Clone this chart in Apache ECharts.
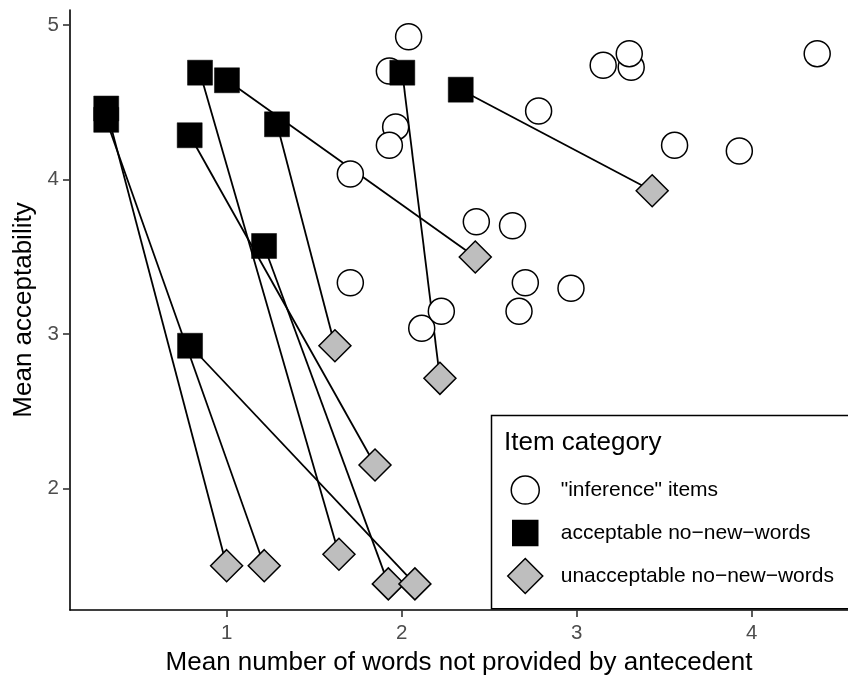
<!DOCTYPE html>
<html>
<head>
<meta charset="utf-8">
<script src="https://cdn.jsdelivr.net/npm/echarts@6/dist/echarts.min.js"></script>
<style>
html, body { margin: 0; padding: 0; background: #fff; }
#main { width: 848px; height: 675px; }
</style>
</head>
<body>
<div id="main"></div>
<script>
// "inference" items
var inferenceX = [2.039, 1.929, 2.782, 1.965, 1.929, 1.706, 3.151, 3.311, 3.300, 4.374,
                  3.559, 3.929, 2.426, 2.633, 1.706, 2.670, 2.706, 2.967, 2.114, 2.226];
var inferenceY = [4.924, 4.702, 4.443, 4.340, 4.221, 4.035, 4.739, 4.726, 4.814, 4.814,
                  4.221, 4.184, 3.726, 3.700, 3.331, 3.146, 3.331, 3.295, 3.036, 3.146];

// acceptable / unacceptable no-new-words, same index = same item pair
var acceptX = [0.311, 0.311, 0.847, 1.001, 0.788, 1.287, 1.213, 0.790, 2.003, 2.337];
var acceptY = [4.459, 4.386, 4.691, 4.642, 4.286, 4.357, 3.569, 2.923, 4.691, 4.581];
var unaccX  = [0.999, 1.214, 1.641, 2.420, 1.847, 1.618, 1.923, 2.075, 2.218, 3.431];
var unaccY  = [1.499, 1.499, 1.573, 3.498, 2.151, 2.923, 1.381, 1.381, 2.712, 3.927];

var xTicks = [1, 2, 3, 4];
var yTicks = [2, 3, 4, 5];
var categoryNames = ['"inference" items', 'acceptable no\u2212new\u2212words', 'unacceptable no\u2212new\u2212words'];

var font = "'Liberation Sans', Arial, Helvetica, sans-serif";

function zip(xs, ys) {
    return xs.map(function (x, i) { return [x, ys[i]]; });
}

var pairLines = acceptX.map(function (x, i) {
    return { coords: [[x, acceptY[i]], [unaccX[i], unaccY[i]]] };
});

var legendIcons = [
    'path://M0 0M48 35M3.5 17.5A14 14 0 1 1 31.5 17.5A14 14 0 1 1 3.5 17.5Z',
    'path://M0 0M48 35M5 5L30 5L30 30L5 30Z',
    'path://M0 0M48 35M17.5 0L35 17.5L17.5 35L0 17.5Z'
];

var myChart = echarts.init(document.getElementById('main'));

var axisCommon = {
    type: 'value',
    nameLocation: 'middle',
    nameTextStyle: { fontSize: 26, color: '#000', fontFamily: font },
    splitLine: { show: false },
    axisLine: { onZero: false, lineStyle: { color: '#000', width: 1.6 } },
    axisTick: { length: 7, lineStyle: { color: '#333', width: 1.6 } },
    axisLabel: { fontSize: 20.5, color: '#4D4D4D', fontFamily: font }
};

option = {
    animation: false,
    textStyle: { fontFamily: font },
    title: {
        text: 'Item category',
        left: 504,
        top: 430,
        padding: 0,
        textStyle: { fontSize: 26, fontWeight: 'normal', color: '#000', fontFamily: font }
    },
    legend: {
        orient: 'vertical',
        left: 491.5,
        top: 415.5,
        padding: [56.3, 30, 14.5, 15.5],
        itemWidth: 48,
        itemHeight: 35,
        itemGap: 6.5,
        borderColor: '#000',
        borderWidth: 1.5,
        backgroundColor: '#fff',
        itemStyle: { borderWidth: 1.5 },
        textStyle: { fontSize: 21, color: '#000', fontFamily: font },
        data: categoryNames.map(function (n, i) {
            return { name: n, icon: legendIcons[i] };
        })
    },
    grid: { left: 70, right: 0, top: 10, bottom: 65, containLabel: false, outerBoundsMode: 'none' },
    xAxis: echarts.util.merge({
        min: 0.104,
        max: 4.55,
        name: 'Mean number of words not provided by antecedent',
        nameGap: 40,
        axisTick: { customValues: xTicks },
        axisLabel: { customValues: xTicks, margin: 13 }
    }, axisCommon),
    yAxis: echarts.util.merge({
        min: 1.212,
        max: 5.097,
        name: 'Mean acceptability',
        nameGap: 30,
        axisTick: { customValues: yTicks },
        axisLabel: { customValues: yTicks, margin: 11 }
    }, axisCommon),
    series: [
        {
            type: 'lines',
            coordinateSystem: 'cartesian2d',
            silent: true,
            z: 1,
            lineStyle: { color: '#000', width: 1.8, opacity: 1, curveness: 0 },
            data: pairLines
        },
        {
            name: categoryNames[0],
            type: 'scatter',
            z: 2,
            symbol: 'circle',
            symbolSize: 26,
            itemStyle: { color: '#fff', borderColor: '#000', borderWidth: 1.5, opacity: 1 },
            data: zip(inferenceX, inferenceY)
        },
        {
            name: categoryNames[1],
            type: 'scatter',
            z: 3,
            symbol: 'rect',
            symbolSize: 25,
            itemStyle: { color: '#000', borderColor: '#000', borderWidth: 0.5, opacity: 1 },
            data: zip(acceptX, acceptY)
        },
        {
            name: categoryNames[2],
            type: 'scatter',
            z: 4,
            symbol: 'diamond',
            symbolSize: 32,
            itemStyle: { color: '#BEBEBE', borderColor: '#000', borderWidth: 1.5, opacity: 1 },
            data: zip(unaccX, unaccY)
        }
    ]
};

myChart.setOption(option);
</script>
</body>
</html>
